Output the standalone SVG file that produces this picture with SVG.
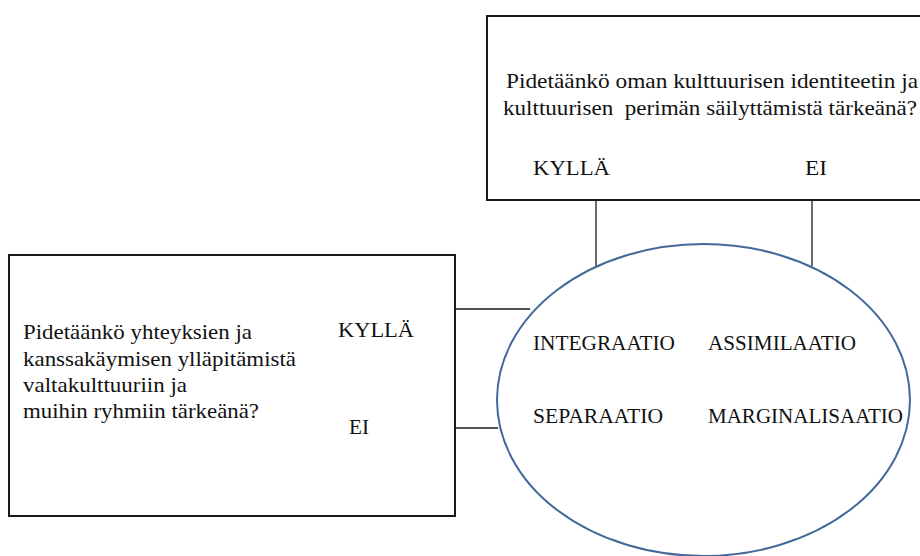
<svg xmlns="http://www.w3.org/2000/svg" width="920" height="556" viewBox="0 0 920 556">
<style>
text{font-family:"Liberation Serif","Times New Roman",serif;font-size:21px;fill:#111}
.box{fill:#fff;stroke:#1a1a1a;stroke-width:2}
.ln{stroke:#1a1a1a;stroke-width:1.3;fill:none}
.ell{fill:#fff;stroke:#41699a;stroke-width:2}
</style>
<rect width="920" height="556" fill="#fff"/>
<g id="connectors">
<line class="ln" x1="596" y1="200" x2="596" y2="266"/>
<line class="ln" x1="812" y1="200" x2="812" y2="266"/>
<line class="ln" x1="455" y1="309" x2="530" y2="309"/>
<line class="ln" x1="455" y1="428" x2="498" y2="428"/>
</g>
<g id="top-question">
<rect class="box" x="487" y="16" width="440" height="184"/>
<text x="506" y="88" textLength="412" lengthAdjust="spacingAndGlyphs">Pidetäänkö oman kulttuurisen identiteetin ja</text>
<text x="503" y="115" textLength="414" lengthAdjust="spacingAndGlyphs" xml:space="preserve">kulttuurisen  perimän säilyttämistä tärkeänä?</text>
<text x="533" y="175" textLength="77" lengthAdjust="spacingAndGlyphs">KYLLÄ</text>
<text x="805" y="175" textLength="22" lengthAdjust="spacingAndGlyphs">EI</text>
</g>
<g id="left-question">
<rect class="box" x="9" y="255" width="446" height="261"/>
<text x="23" y="339" textLength="229" lengthAdjust="spacingAndGlyphs">Pidetäänkö yhteyksien ja</text>
<text x="23" y="366" textLength="273" lengthAdjust="spacingAndGlyphs">kanssakäymisen ylläpitämistä</text>
<text x="23" y="392" textLength="164" lengthAdjust="spacingAndGlyphs">valtakulttuuriin ja</text>
<text x="23" y="418" textLength="236" lengthAdjust="spacingAndGlyphs">muihin ryhmiin tärkeänä?</text>
<text x="338" y="337" textLength="76" lengthAdjust="spacingAndGlyphs">KYLLÄ</text>
<text x="349" y="434" textLength="20" lengthAdjust="spacingAndGlyphs">EI</text>
</g>
<g id="strategies">
<ellipse class="ell" cx="703.5" cy="400" rx="206.5" ry="156"/>
<text x="533" y="350" textLength="142" lengthAdjust="spacingAndGlyphs">INTEGRAATIO</text>
<text x="708" y="350" textLength="148" lengthAdjust="spacingAndGlyphs">ASSIMILAATIO</text>
<text x="533" y="423" textLength="130" lengthAdjust="spacingAndGlyphs">SEPARAATIO</text>
<text x="708" y="423" textLength="195" lengthAdjust="spacingAndGlyphs">MARGINALISAATIO</text>
</g>
</svg>
